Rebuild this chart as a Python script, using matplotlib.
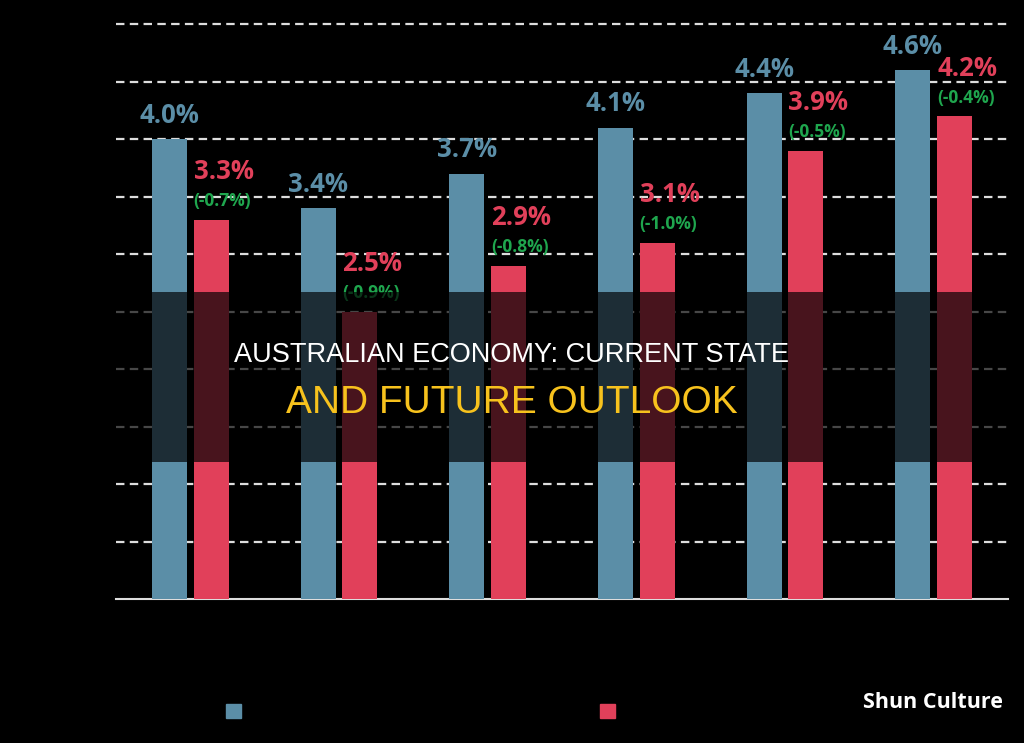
import numpy as np
import matplotlib
matplotlib.use('Agg')
import matplotlib.pyplot as plt
from matplotlib.patches import Rectangle, Patch

# data
categories = ['Q1', 'Q2', 'Q3', 'Q4', 'Q5', 'Q6']
previous = [4.0, 3.4, 3.7, 4.1, 4.4, 4.6]
updated = [3.3, 2.5, 2.9, 3.1, 3.9, 4.2]
changes = ['(-0.7%)', '(-0.9%)', '(-0.8%)', '(-1.0%)', '(-0.5%)', '(-0.4%)']
series_names = ['Previous forecast', 'Updated forecast']

blue = '#5b8ea7'
red = '#e1405a'
green = '#1fa64e'

fig = plt.figure(figsize=(10.24, 7.43), dpi=100, facecolor='black')
ax = fig.add_axes([116 / 1024, 144 / 743, 892 / 1024, 599 / 743])
ax.set_facecolor('black')

x = np.arange(len(categories))
w = 0.235
off = 0.14

ax.bar(x - off, previous, width=w, color=blue, zorder=3)
ax.bar(x + off, updated, width=w, color=red, zorder=3)

# value labels
for i in range(len(categories)):
    ax.annotate(f'{previous[i]:.1f}%', (x[i] - off, previous[i]), xytext=(0, 17),
                textcoords='offset points', ha='center', va='center',
                fontsize=18.5, fontweight='bold', family='Open Sans', color=blue, zorder=4)
    ax.annotate(f'{updated[i]:.1f}%', (x[i] + off - w / 2, updated[i]), xytext=(0, 34.5),
                textcoords='offset points', ha='left', va='center',
                fontsize=18.5, fontweight='bold', family='Open Sans', color=red, zorder=4)
    ax.annotate(changes[i], (x[i] + off - w / 2, updated[i]), xytext=(0, 13),
                textcoords='offset points', ha='left', va='center',
                fontsize=12.5, fontweight='bold', family='Open Sans', color=green, zorder=4)

ax.set_xlim(-0.5, len(categories) - 0.5)
ax.set_ylim(0, 5.0 + 24 / 115)
ax.set_yticks(np.arange(0.5, 5.01, 0.5))
ax.yaxis.grid(True, color='#dddddd', linewidth=1.6, linestyle=(0, (3.8, 2.4)), zorder=0)
ax.set_axisbelow(True)
ax.tick_params(left=False, bottom=False, labelleft=False, labelbottom=False)
for s in ['top', 'right', 'left']:
    ax.spines[s].set_visible(False)
ax.spines['bottom'].set_color('#dddddd')
ax.spines['bottom'].set_linewidth(1.5)

# legend squares (text is black on black in the reference)
for name, col, xpos in [(series_names[0], blue, 226), (series_names[1], red, 600)]:
    leg = fig.legend(handles=[Patch(color=col)], labels=[name], loc='center left',
                     bbox_to_anchor=(xpos / 1024, 1 - 712 / 743), frameon=False,
                     fontsize=11, handlelength=1.0, handleheight=1.0,
                     borderpad=0, borderaxespad=0, labelcolor='black')

# dark overlay band with title
fig.patches.append(Rectangle((0, 1 - 462 / 743), 1, 170 / 743, transform=fig.transFigure,
                             facecolor='black', alpha=0.68, edgecolor='none', zorder=5))
fig.text(0.5, 1 - 355 / 743, 'AUSTRALIAN ECONOMY: CURRENT STATE', ha='center', va='center',
         fontsize=19.5, family='Liberation Sans', color='white', zorder=6)
fig.text(0.5, 1 - 403 / 743, 'AND FUTURE OUTLOOK', ha='center', va='center',
         fontsize=28, family='Liberation Sans', color='#f7c21d', zorder=6)

fig.text(1003 / 1024, 1 - 702 / 743, 'Shun Culture', ha='right', va='center',
         fontsize=15.5, fontweight='bold', family='Open Sans', color='white')

fig.savefig('out.png', dpi=100, facecolor='black')
